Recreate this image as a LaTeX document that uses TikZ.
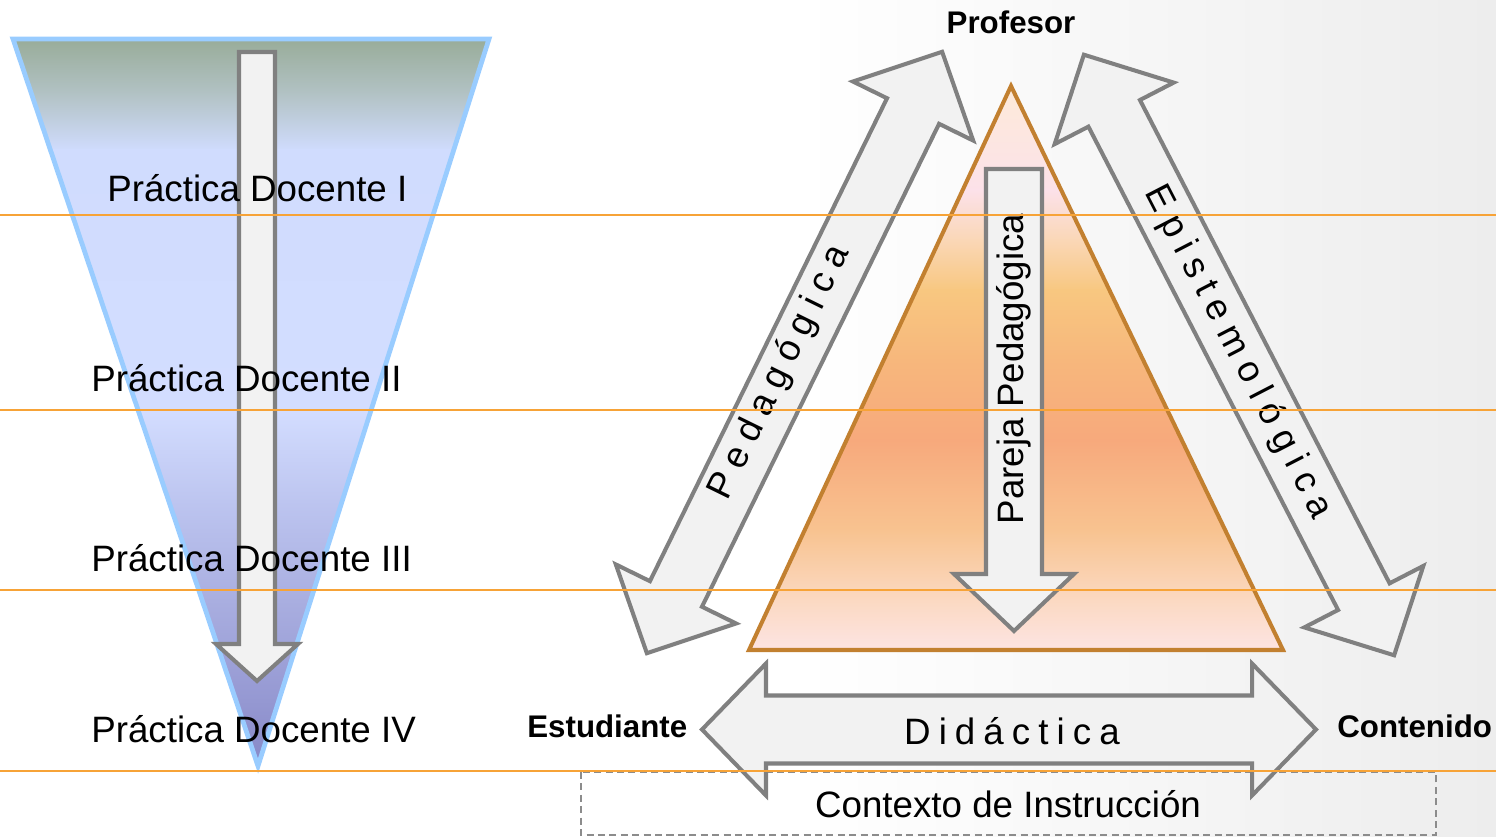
\documentclass[tikz,border=0pt]{standalone}
\usepackage{fontspec}
\setmainfont{Liberation Sans}
\definecolor{arrowfill}{HTML}{F2F2F2}
\definecolor{arrowdraw}{HTML}{808080}
\definecolor{guide}{RGB}{247,163,55}
\definecolor{triblue}{HTML}{99CCFF}
\definecolor{tribrown}{RGB}{194,128,48}
\definecolor{bggray}{HTML}{EDEDED}
\definecolor{dashgray}{HTML}{8C8C8C}
% left triangle stops
\definecolor{la}{HTML}{97AB97}
\definecolor{lb}{HTML}{B3C3C6}
\definecolor{lc}{HTML}{D0DCFE}
\definecolor{ld}{HTML}{D3DDFF}
\definecolor{le}{HTML}{BDC5F0}
\definecolor{lf}{HTML}{A9AEE0}
\definecolor{lg}{HTML}{9598D2}
\definecolor{lh}{HTML}{8485C4}
% right triangle stops
\definecolor{ra}{HTML}{FDEBD8}
\definecolor{rb}{HTML}{FCE1E9}
\definecolor{rc}{HTML}{FAD7B6}
\definecolor{rd}{HTML}{F8C780}
\definecolor{re}{HTML}{F7B77C}
\definecolor{rf}{HTML}{F7A97C}
\definecolor{rg}{HTML}{F8C390}
\definecolor{rh}{HTML}{FBD9C2}
\definecolor{ri}{HTML}{FDE5E6}
\newcommand{\dblarrowpath}[4]{({-#1},0) -- ({-#1+#4},{#3}) -- ({-#1+#4},{#2}) -- ({#1-#4},{#2}) -- ({#1-#4},{#3}) -- ({#1},0) -- ({#1-#4},{-#3}) -- ({#1-#4},{-#2}) -- ({-#1+#4},{-#2}) -- ({-#1+#4},{-#3}) -- cycle}
\newcommand{\lsp}{\kern 5.3pt}
\newcommand{\lspd}{\kern 4.6pt}
\begin{document}
\begin{tikzpicture}[x=0.02cm,y=-0.02cm,
  blockarrow/.style={fill=arrowfill, draw=arrowdraw, line width=2.3pt, line join=miter},
  guideline/.style={draw=guide, line width=1.1pt},
  lbl/.style={font=\fontsize{20.9}{25}\selectfont, inner sep=0pt},
  blbl/.style={font=\bfseries\fontsize{17.8}{21}\selectfont, inner sep=0pt}]
\useasboundingbox (0,0) rectangle (1496,837);
\fill[white] (0,0) rectangle (1496,837);
\shade[left color=white, right color=bggray] (800,0) rectangle (1496,837);

% ---------- left inverted triangle ----------
\begin{scope}
  \clip (13,39) -- (489,39) -- (258,766) -- cycle;
  \shade[top color=la, bottom color=lb] (0,36) rectangle (500,96);
  \shade[top color=lb, bottom color=lc] (0,95) rectangle (500,151);
  \shade[top color=lc, bottom color=ld] (0,150) rectangle (500,411);
  \shade[top color=ld, bottom color=le] (0,410) rectangle (500,501);
  \shade[top color=le, bottom color=lf] (0,500) rectangle (500,601);
  \shade[top color=lf, bottom color=lg] (0,600) rectangle (500,701);
  \shade[top color=lg, bottom color=lh] (0,700) rectangle (500,780);
\end{scope}
\draw[draw=triblue, line width=2.7pt, line join=miter] (13,39) -- (489,39) -- (258,766) -- cycle;

% vertical arrow in left triangle
\draw[blockarrow] (239,52) -- (275,52) -- (275,644) -- (298,644) -- (257,681) -- (216,644) -- (239,644) -- cycle;

% ---------- right triangle ----------
\begin{scope}
  \clip (1011,86) -- (1283,650) -- (749,650) -- cycle;
  \shade[top color=ra, bottom color=rb] (700,80) rectangle (1300,191);
  \shade[top color=rb, bottom color=rc] (700,190) rectangle (1300,241);
  \shade[top color=rc, bottom color=rd] (700,240) rectangle (1300,291);
  \shade[top color=rd, bottom color=re] (700,290) rectangle (1300,361);
  \shade[top color=re, bottom color=rf] (700,360) rectangle (1300,441);
  \shade[top color=rf, bottom color=rg] (700,440) rectangle (1300,531);
  \shade[top color=rg, bottom color=rh] (700,530) rectangle (1300,601);
  \shade[top color=rh, bottom color=ri] (700,600) rectangle (1300,655);
\end{scope}
\draw[draw=tribrown, line width=2.3pt, line join=miter] (1011,86) -- (1283,650) -- (749,650) -- cycle;

% Pareja Pedagogica arrow
\draw[blockarrow] (986,169) -- (1042,169) -- (1042,574) -- (1074,574) -- (1014,631) -- (954,574) -- (986,574) -- cycle;
\node[lbl, rotate=90] (pareja) at (1014,369) {Pareja Pedagógica};

% Pedagogica double arrow
\begin{scope}[shift={(794.5,352.5)}, rotate=63.85]
  \draw[blockarrow] \dblarrowpath{335}{29}{67}{66};
\end{scope}
\node[lbl, rotate=63.85] (pedag) at (780,373) {P\lsp e\lsp d\lsp a\lsp g\lsp ó\lsp g\lsp i\lsp c\lsp a};

% Epistemologica double arrow
\begin{scope}[shift={(1239,355)}, rotate=-62.68]
  \draw[blockarrow] \dblarrowpath{338}{29}{67}{66};
\end{scope}
\node[lbl, rotate=-62.68] (epist) at (1238,352) {E\lsp p\lsp i\lsp s\lsp t\lsp e\lsp m\lsp o\lsp l\lsp ó\lsp g\lsp i\lsp c\lsp a};

% context dashed box
\draw[dashgray, line width=0.75pt, dash pattern=on 4pt off 2.5pt] (581,772) rectangle (1436,835);

% Didactica double arrow
\begin{scope}[shift={(1009,729.5)}]
  \draw[blockarrow] \dblarrowpath{307}{34}{66}{64};
\end{scope}
\node[lbl, anchor=base] (didac) at (1012,744) {D\lspd i\lspd d\lspd á\lspd c\lspd t\lspd i\lspd c\lspd a};
\node[lbl, anchor=base] (contexto) at (1008,817) {Contexto de Instrucción};

% vertex labels
\node[blbl, anchor=base] (prof) at (1011,34) {Profesor};
\node[blbl, anchor=base west] (estud) at (527,737) {Estudiante};
\node[blbl, anchor=base west] (conten) at (1337,737) {Contenido};

% practice labels
\node[lbl, anchor=base west] (pd1) at (107,202) {Práctica Docente I};
\node[lbl, anchor=base west] (pd2) at (91,392) {Práctica Docente II};
\node[lbl, anchor=base west] (pd3) at (91,571) {Práctica Docente III};
\node[lbl, anchor=base west] (pd4) at (91,742) {Práctica Docente IV};

% orange guide lines
\coordinate (g1l) at (0,215);   \coordinate (g1r) at (1496,215);
\coordinate (g2l) at (0,410);   \coordinate (g2r) at (1496,410);
\coordinate (g3l) at (0,590);   \coordinate (g3r) at (1496,590);
\coordinate (g4l) at (0,771);   \coordinate (g4r) at (1496,771);
\draw[guideline] (g1l) -- (g1r);
\draw[guideline] (g2l) -- (g2r);
\draw[guideline] (g3l) -- (g3r);
\draw[guideline] (g4l) -- (g4r);
\end{tikzpicture}
\end{document}
